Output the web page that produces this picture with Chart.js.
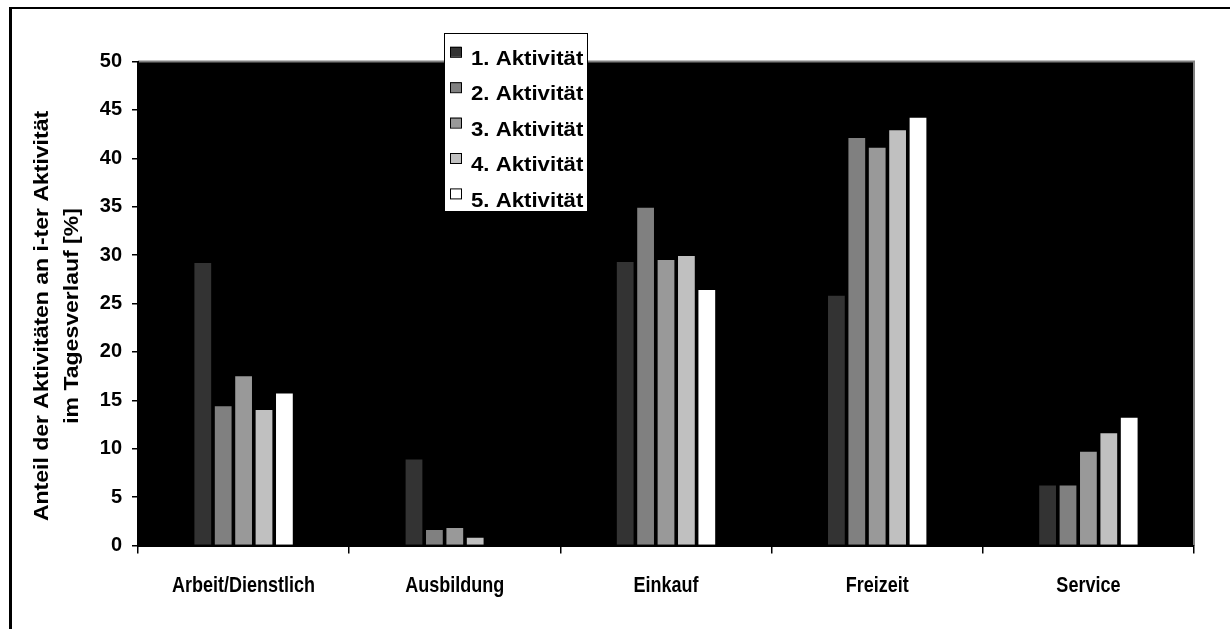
<!DOCTYPE html>
<html>
<head>
<meta charset="utf-8">
<script src="https://cdn.jsdelivr.net/npm/chart.js@4/dist/chart.umd.min.js"></script>
<style>
  html, body { margin: 0; padding: 0; background: #ffffff; }
  #wrap { position: relative; width: 1230px; height: 629px; }
  canvas { display: block; }
</style>
</head>
<body>
<div id="wrap"><canvas id="c" width="1230" height="629"></canvas></div>
<script>
// ---- data ----
const categories = ['Arbeit/Dienstlich', 'Ausbildung', 'Einkauf', 'Freizeit', 'Service'];
const seriesNames = ['1. Aktivität', '2. Aktivität', '3. Aktivität', '4. Aktivität', '5. Aktivität'];
const akt1 = [29.3, 9.0, 29.4, 25.9, 6.3];
const akt2 = [14.5, 1.7, 35.0, 42.2, 6.3];
const akt3 = [17.6, 1.9, 29.6, 41.2, 9.8];
const akt4 = [14.1, 0.9, 30.0, 43.0, 11.7];
const akt5 = [15.8, 0.0, 26.5, 44.3, 13.3];
const yTicks = [0, 5, 10, 15, 20, 25, 30, 35, 40, 45, 50];
const yTitle = ['Anteil der Aktivitäten an i-ter Aktivität', 'im Tagesverlauf [%]'];

const seriesValues = [akt1, akt2, akt3, akt4, akt5];
const seriesColors = ['#333333', '#808080', '#999999', '#c0c0c0', '#ffffff'];

const FONT = 'Liberation Sans, Arial, sans-serif';

const pagePlugin = {
  id: 'page',
  beforeDraw(chart) {
    const ctx = chart.ctx;
    const a = chart.chartArea;
    ctx.save();
    ctx.fillStyle = '#ffffff';
    ctx.fillRect(0, 0, chart.width, chart.height);
    ctx.fillStyle = '#000000';
    ctx.fillRect(9, 7, 3, chart.height - 7);
    ctx.fillRect(9, 7, chart.width - 9, 2);
    ctx.fillStyle = '#000000';
    ctx.fillRect(a.left, a.top, a.right - a.left, a.bottom - a.top);
    ctx.strokeStyle = '#808080';
    ctx.lineWidth = 2;
    ctx.beginPath();
    ctx.moveTo(a.left, a.top);
    ctx.lineTo(a.right, a.top);
    ctx.lineTo(a.right, a.bottom);
    ctx.stroke();
    ctx.restore();
  },
  afterDraw(chart) {
    const ctx = chart.ctx;
    // category labels (from the x scale)
    const xs = chart.scales.x;
    ctx.save();
    ctx.fillStyle = '#000000';
    ctx.font = 'bold 18px ' + FONT;
    ctx.textAlign = 'center';
    ctx.textBaseline = 'middle';
    chart.data.labels.forEach((lab, i) => {
      ctx.save();
      ctx.translate(xs.getPixelForTick(i), 586);
      ctx.scale(1, 1.18);
      ctx.fillText(lab, 0, 0);
      ctx.restore();
    });
    ctx.restore();

    // y axis title (two lines, rotated)
    ctx.save();
    ctx.fillStyle = '#000000';
    ctx.font = 'bold 20px ' + FONT;
    ctx.textAlign = 'center';
    ctx.textBaseline = 'middle';
    const cy = 316;
    [42, 72].forEach((x, i) => {
      ctx.save();
      ctx.translate(x, cy);
      ctx.rotate(-Math.PI / 2);
      ctx.scale(1.15, 1);
      ctx.fillText(yTitle[i], 0, 0);
      ctx.restore();
    });
    ctx.restore();

    // legend box
    const bx = 444, by = 33, bw = 144, bh = 179;
    ctx.save();
    ctx.fillStyle = '#ffffff';
    ctx.fillRect(bx, by, bw, bh);
    ctx.strokeStyle = '#000000';
    ctx.lineWidth = 1;
    ctx.strokeRect(bx + 0.5, by + 0.5, bw - 1, bh - 1);
    const rowStep = 35.4;
    chart.data.datasets.forEach((ds, i) => {
      const ty = 59.3 + i * rowStep;
      ctx.fillStyle = ds.backgroundColor;
      ctx.fillRect(450, ty - 12.5, 11, 10);
      ctx.strokeStyle = '#000000';
      ctx.lineWidth = 1;
      ctx.strokeRect(450.5, ty - 12.5 + 0.5, 11, 10);
      ctx.fillStyle = '#000000';
      ctx.font = 'bold 20px ' + FONT;
      ctx.textBaseline = 'middle';
      ctx.textAlign = 'left';
      ctx.save();
      ctx.translate(471, ty);
      ctx.scale(1.11, 1.05);
      ctx.fillText(ds.label, 0, 0);
      ctx.restore();
    });
    ctx.restore();
  }
};

new Chart(document.getElementById('c'), {
  type: 'bar',
  data: {
    labels: categories,
    datasets: seriesNames.map((n, i) => ({
      label: n,
      data: seriesValues[i],
      backgroundColor: seriesColors[i],
      borderColor: '#000000',
      borderWidth: 1,
      categoryPercentage: 0.483,
      barPercentage: 0.92
    }))
  },
  options: {
    responsive: false,
    animation: false,
    devicePixelRatio: 1,
    layout: { padding: { left: 20, top: 61.5, right: 36, bottom: 0 } },
    plugins: { legend: { display: false }, tooltip: { enabled: false } },
    scales: {
      x: {
        afterFit(s) { s.height = 83.5; },
        grid: { display: true, drawOnChartArea: false, drawTicks: true, tickLength: 8, color: '#000000', lineWidth: 1.5, offset: true },
        border: { display: true, color: '#000000', width: 2 },
        ticks: { display: false, autoSkip: false }
      },
      y: {
        min: 0, max: 50,
        afterFit(s) { s.width = 118; },
        afterBuildTicks(s) { s.ticks = yTicks.map(v => ({ value: v })); },
        grid: { display: true, drawOnChartArea: false, drawTicks: true, tickLength: 6, color: '#000000', lineWidth: 1.5 },
        border: { display: true, color: '#000000', width: 2 },
        ticks: { color: '#000000', padding: 10, font: { family: FONT, size: 20, weight: 'bold' } },
        title: { display: false }
      }
    }
  },
  plugins: [pagePlugin]
});
</script>
</body>
</html>
